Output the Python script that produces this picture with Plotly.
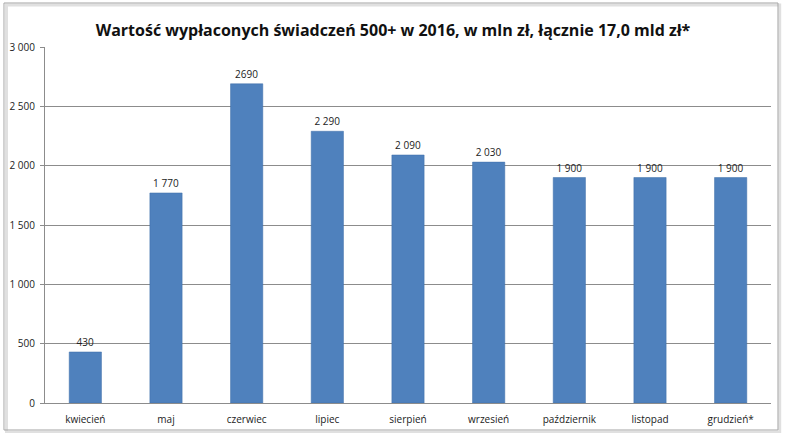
import plotly.graph_objects as go

months = ["kwiecień", "maj", "czerwiec", "lipiec", "sierpień", "wrzesień",
          "październik", "listopad", "grudzień*"]
values = [430, 1770, 2690, 2290, 2090, 2030, 1900, 1900, 1900]
value_labels = ["430", "1 770", "2690", "2 290", "2 090", "2 030", "1 900", "1 900", "1 900"]
y_ticks = [0, 500, 1000, 1500, 2000, 2500, 3000]
y_tick_labels = ["0", "500", "1 000", "1 500", "2 000", "2 500", "3 000"]

fig = go.Figure(data=[go.Bar(
    x=months, y=values, text=value_labels, textposition="outside",
    textfont=dict(size=10, color="#222222"), cliponaxis=False,
    marker=dict(color="#4f81bd", line=dict(color="#3f6fa8", width=0.5)),
    width=0.4,
)])

fig.update_layout(
    width=786, height=433,
    margin=dict(l=45, r=15, t=47, b=30),
    paper_bgcolor="white", plot_bgcolor="white",
    font=dict(family="Open Sans, DejaVu Sans, sans-serif", size=10, color="#222222"),
    title=dict(text="<b>Wartość wypłaconych świadczeń 500+ w 2016, w mln zł, łącznie 17,0 mld zł*</b>",
               x=0.5, xanchor="center", y=0.93, yanchor="middle",
               font=dict(size=16, color="#111111")),
    showlegend=False,
    bargap=0.6,
)
fig.update_yaxes(range=[0, 3000], tickvals=y_ticks, ticktext=y_tick_labels,
                 showgrid=True, gridcolor="#8c8c8c", gridwidth=1,
                 showline=True, linecolor="#8c8c8c", ticks="outside", ticklen=4,
                 tickcolor="#8c8c8c", zeroline=False, ticklabelstandoff=3,
                 automargin=False)
fig.update_xaxes(showline=True, linecolor="#8c8c8c", ticks="", tickfont=dict(size=10),
                 ticklabelstandoff=7, automargin=False)

# outer chart frame with a soft shadow
fig.add_shape(type="rect", xref="paper", yref="paper",
              x0=-0.053, x1=1.012, y0=-0.082, y1=1.118,
              line=dict(color="#e0e0e0", width=3), layer="below")
fig.add_shape(type="rect", xref="paper", yref="paper",
              x0=-0.0565, x1=1.0096, y0=-0.0758, y1=1.1236,
              line=dict(color="#a6a6a6", width=1), layer="below")

fig.write_html("out.html", config={"displayModeBar": False},
               post_script="document.body.style.margin='0';")
